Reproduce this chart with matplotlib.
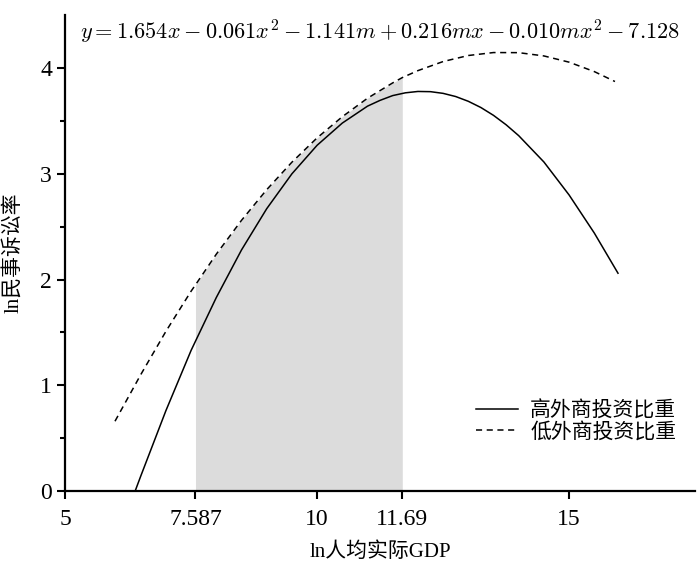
import numpy as np
import matplotlib.pyplot as plt

# values
high_x = [6.39, 6.5, 7.0, 7.5, 8.0, 8.5, 9.0, 9.5, 10.0, 10.5, 11.0, 11.25, 11.5,
          11.75, 12.0, 12.25, 12.5, 12.75, 13.0, 13.25, 13.5, 13.75, 14.0, 14.5,
          15.0, 15.5, 15.97]
high_y = [0.0, 0.14, 0.76, 1.33, 1.83, 2.28, 2.67, 3.00, 3.27, 3.48, 3.64, 3.695, 3.74,
          3.766, 3.779, 3.777, 3.761, 3.731, 3.686, 3.627, 3.553, 3.464, 3.361, 3.112,
          2.80, 2.44, 2.06]

low_x = [5.99, 6.5, 7.0, 7.5, 7.587, 8.0, 8.5, 9.0, 9.5, 10.0, 10.5, 11.0, 11.5,
         11.69, 12.0, 12.5, 13.0, 13.5, 14.0, 14.5, 15.0, 15.5, 15.91]
low_y = [0.66, 1.10, 1.51, 1.89, 1.95, 2.24, 2.56, 2.85, 3.11, 3.34, 3.54, 3.715,
         3.86, 3.91, 3.976, 4.062, 4.119, 4.147, 4.146, 4.115, 4.056, 3.967, 3.873]

band = [7.587, 11.69]
xticks = [5, 7.587, 10, 11.69, 15]
xticklabels = ["5", "7.587", "10", "11.69", "15"]
labels = ["高外商投资比重", "低外商投资比重"]
equation = (r"$y=1.654x-0.061x^2-1.141m+0.216mx-0.010mx^2-7.128$")

plt.rcParams["font.family"] = ["Liberation Serif", "Noto Sans CJK SC"]
plt.rcParams["mathtext.fontset"] = "cm"

fig = plt.figure(figsize=(7, 5.64), dpi=100)
ax = fig.add_axes([0.093, 0.1294, 0.9, 0.8436])

lx = np.array(low_x)
ly = np.array(low_y)
ax.fill_between(lx, 0, ly, where=(lx >= band[0]) & (lx <= band[1]),
                color="#dcdcdc", lw=0, zorder=1)

ax.plot(high_x, high_y, "k-", lw=1.1, label=labels[0], zorder=3)
ax.plot(low_x, low_y, "k--", lw=1.1, dashes=(4, 3), label=labels[1], zorder=3)

ax.set_xlim(5, 17.5)
ax.set_ylim(0, 4.5)
ax.set_xticks(xticks)
ax.set_xticklabels(xticklabels)
ax.set_yticks([0, 1, 2, 3, 4])
ax.set_yticks(np.arange(0.5, 4.5, 1.0), minor=True)
ax.tick_params(axis="both", which="major", direction="out", length=6, width=1.5,
               labelsize=17)
ax.tick_params(axis="x", which="major", pad=7)
ax.tick_params(axis="y", which="minor", direction="out", length=3.5, width=1.5)

for s in ["top", "right"]:
    ax.spines[s].set_visible(False)
for s in ["left", "bottom"]:
    ax.spines[s].set_linewidth(1.6)

ax.set_xlabel("ln人均实际GDP", fontsize=15, labelpad=9)
ax.set_ylabel("ln民事诉讼率", fontsize=15, labelpad=12)

ax.text(0.024, 0.965, equation, transform=ax.transAxes, fontsize=16.1,
        ha="left", va="center")

ax.legend(loc="center right", bbox_to_anchor=(1.0, 0.145), frameon=False,
          fontsize=15, handlelength=2.0, handletextpad=0.6, labelspacing=0.05)

fig.savefig("out.png", dpi=100)
